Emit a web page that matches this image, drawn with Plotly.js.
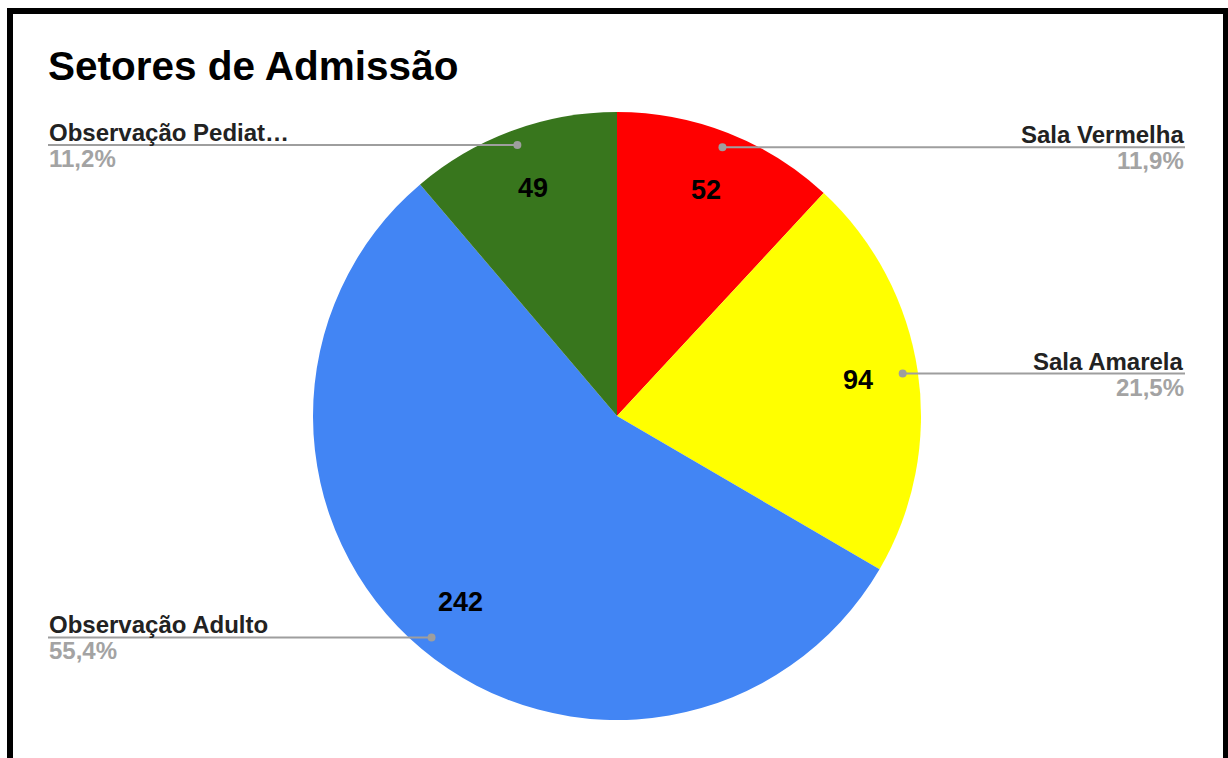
<!DOCTYPE html>
<html>
<head>
<meta charset="utf-8">
<script src="https://cdn.plot.ly/plotly-3.0.1.min.js"></script>
<style>
  html, body { margin: 0; padding: 0; background: #fff; overflow: hidden; }
  #chart { width: 1228px; height: 758px; }
  #frame { position: absolute; left: 7px; top: 8px; width: 1210px; height: 760px;
           border: 6px solid #000; border-bottom: none; pointer-events: none; }
</style>
</head>
<body>
<div id="chart"></div>
<div id="frame"></div>
<script>
const categories = ["Sala Vermelha", "Sala Amarela", "Observação Adulto", "Observação Pediat…"];
const values = [52, 94, 242, 49];
const colors = ["#ff0000", "#ffff00", "#4285f4", "#38761d"];
const chartTitle = "Setores de Admissão";

const W = 1228, H = 758;
const cx = 617, cy = 416, R = 304;
const px = x => x / W;
const py = y => 1 - y / H;

const total = values.reduce((a, b) => a + b, 0);
const fmtPct = v => (v / total * 100).toFixed(1).replace('.', ',') + '%';

const FONT = 'Liberation Sans, Arial, sans-serif';
const annotations = [];
const shapes = [];
let cum = 0;
values.forEach((v, i) => {
  const mid = (cum + v / 2) / total * 2 * Math.PI;
  cum += v;
  // value label inside slice
  const lx = cx + 0.8 * R * Math.sin(mid), ly = cy - 0.8 * R * Math.cos(mid);
  annotations.push({
    xref: 'paper', yref: 'paper', x: px(lx), y: py(ly), xanchor: 'center', yanchor: 'middle',
    text: String(v), showarrow: false,
    font: {family: FONT, size: 27, color: '#000', weight: 'bold'}
  });
  // leader dot + line
  const dx = cx + 0.95 * R * Math.sin(mid), dy = cy - 0.95 * R * Math.cos(mid);
  const right = Math.sin(mid) > 0;
  const edge = right ? 1185 : 48;
  shapes.push({type: 'line', xref: 'paper', yref: 'paper', x0: px(dx), y0: py(dy), x1: px(edge), y1: py(dy),
               line: {color: '#9e9e9e', width: 2}});
  shapes.push({type: 'circle', xref: 'paper', yref: 'paper', xsizemode: 'pixel', ysizemode: 'pixel',
               xanchor: px(dx), yanchor: py(dy), x0: -4, x1: 4, y0: -4, y1: 4,
               fillcolor: '#9e9e9e', line: {width: 0}});
  annotations.push({
    xref: 'paper', yref: 'paper', x: px(edge), y: py(dy), xanchor: right ? 'right' : 'left', yanchor: 'bottom',
    text: categories[i], showarrow: false, borderpad: 0, yshift: -2,
    font: {family: FONT, size: 24, color: '#222', weight: 'bold'}
  });
  annotations.push({
    xref: 'paper', yref: 'paper', x: px(edge), y: py(dy), xanchor: right ? 'right' : 'left', yanchor: 'top',
    text: fmtPct(v), showarrow: false, borderpad: 0, yshift: 1,
    font: {family: FONT, size: 24, color: '#a3a3a3', weight: 'bold'}
  });
});

const trace = {
  type: 'pie', labels: categories, values: values, sort: false, direction: 'clockwise', rotation: 0,
  marker: {colors: colors, line: {width: 0}},
  textinfo: 'none', hoverinfo: 'label+value+percent', showlegend: false,
  domain: {x: [px(cx - R), px(cx + R)], y: [py(cy + R), py(cy - R)]}
};

const layout = {
  width: W, height: H, margin: {l: 0, r: 0, t: 0, b: 0},
  paper_bgcolor: '#fff', plot_bgcolor: '#fff', showlegend: false,
  title: {text: chartTitle, xref: 'paper', yref: 'paper', x: px(48), xanchor: 'left', y: py(66), yanchor: 'middle',
          font: {family: FONT, size: 40.5, color: '#000', weight: 'bold'}},
  annotations: annotations, shapes: shapes
};

Plotly.newPlot('chart', [trace], layout, {displayModeBar: false, staticPlot: true});
</script>
</body>
</html>
